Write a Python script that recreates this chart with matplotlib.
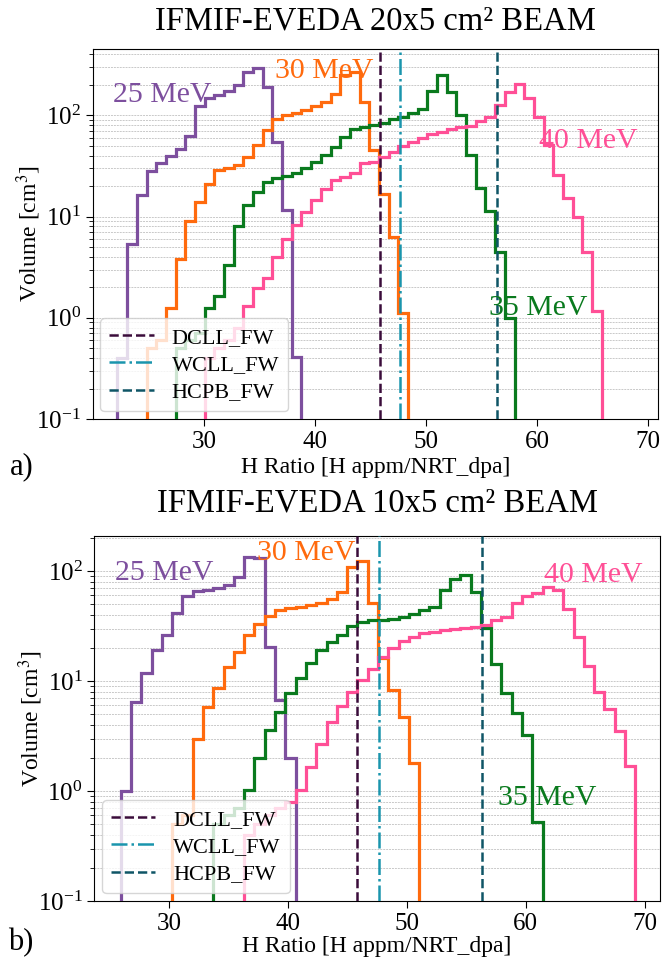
import numpy as np
import matplotlib
matplotlib.use("Agg")
import matplotlib.pyplot as plt

plt.rcParams['font.family'] = ['Liberation Serif', 'DejaVu Serif']
plt.rcParams['mathtext.fontset'] = 'stix'

# ---------------- data ----------------
# common 50-bin grid per panel (range of H ratio)
top_range = (22.2, 65.8)
bot_range = (25.93, 69.22)
n_bins = 50

# top panel (20x5 cm2 beam): start bin index + volumes [cm3]
top_purple_start = 0
top_purple = [0.4, 5.4, 16.3, 28, 33.5, 39.5, 47, 63, 125, 147, 159, 174, 200,
              267, 292, 192, 55, 11.5, 0.41]
top_orange_start = 3
top_orange = [0.5, 0.6, 1.25, 3.8, 9.1, 13.8, 20.8, 28.8, 30, 32, 39, 51, 72,
              93, 100, 105, 113, 125, 137, 161, 250, 267, 137, 45, 16.6, 6.3, 1.12]
top_green_start = 6
top_green = [0.5, 0.6, 0.7, 1.25, 1.66, 3.35, 8.1, 12.9, 17.6, 22, 24, 25, 27,
             30, 35, 41, 49, 61, 74, 77, 80, 85, 92, 97, 105, 115, 174, 250,
             172, 101, 41, 19, 11.4, 4.5, 1.0]
top_pink_start = 9
top_pink = [0.4, 0.5, 0.6, 0.8, 1.32, 1.97, 2.47, 4.0, 6.05, 8.2, 11.1, 14.5,
            18.9, 23.2, 24.7, 26.7, 33.5, 34.8, 39, 43.7, 50, 55, 60, 65, 69,
            73, 76, 79, 88, 97, 128, 171, 203, 147, 97, 51, 25.7, 15.3, 9.8,
            4.5, 1.16]

# bottom panel (10x5 cm2 beam)
bot_purple_start = 0
bot_purple = [1.0, 6.4, 11.7, 19.1, 26.2, 41.2, 59.3, 66.3, 67, 69.5, 74.6,
              87.6, 135, 130, 20.5, 6.7, 2.0]
bot_orange_start = 5
bot_orange = [0.5, 0.6, 3.0, 5.8, 8.6, 13.5, 18.5, 26.2, 33, 39.3, 44, 46,
              46.8, 49, 51.5, 55.3, 64.9, 108, 124, 51.5, 16.1, 8.2, 4.7, 1.8]
bot_green_start = 9
bot_green = [0.5, 0.6, 0.7, 1.03, 2.0, 3.6, 5.2, 7.7, 10.6, 14.5, 19.1, 22.7,
             26.2, 31.6, 34.6, 35.9, 36, 36.4, 38.5, 40.6, 44.2, 47.3, 67, 84,
             92, 65, 30.1, 14.3, 7.8, 5.1, 3.2, 0.52]
bot_pink_start = 12
bot_pink = [0.4, 0.5, 0.6, 0.7, 0.8, 1.02, 1.66, 2.67, 4.2, 5.9, 8.0, 10.2,
            12.8, 16.4, 19.8, 23.2, 25.3, 27.1, 28, 29.1, 29.5, 30.5, 31, 32.5,
            35.9, 38.5, 51.5, 59.3, 63.6, 72, 66.8, 44.9, 24.9, 13.7, 8.0, 5.6,
            3.5, 1.69]

energy_labels = ['25 MeV', '30 MeV', '35 MeV', '40 MeV']
ref_names = ['DCLL_FW', 'WCLL_FW', 'HCPB_FW']
ref_values = [45.85, 47.68, 56.35]
titles = ['IFMIF-EVEDA 20x5 cm² BEAM', 'IFMIF-EVEDA 10x5 cm² BEAM']
panel_tags = ['a)', 'b)']
xticks = [30, 40, 50, 60, 70]

# ---------------- style ----------------
series_colors = ['#7d4f9e', '#ff6a0d', '#0a7a1e', '#ff4f96']
ref_colors = ['#3a0c3a', '#1a95ad', '#0f5566']
ref_styles = ['--', '-.', '--']

fig = plt.figure(figsize=(6.62, 9.66), dpi=100)
W, H = 662.0, 966.0

def axes_px(l, t, r, b):
    return fig.add_axes([l / W, 1 - b / H, (r - l) / W, (b - t) / H])

ax_top = axes_px(92.7, 49.3, 658, 419)
ax_bot = axes_px(94.3, 536, 660, 901)

panels = [
    dict(ax=ax_top, rng=top_range,
         series=[(top_purple_start, top_purple), (top_orange_start, top_orange),
                 (top_green_start, top_green), (top_pink_start, top_pink)],
         xlim=(19.97, 70.87), ylim=(0.1, 450), title_pad=14, xlabelpad=3,
         texts=[(21.8, 135), (36.4, 234), (55.68, 1.07), (60.18, 47.6)],
         tag_pos=(10, 474)),
    dict(ax=ax_bot, rng=bot_range,
         series=[(bot_purple_start, bot_purple), (bot_orange_start, bot_orange),
                 (bot_green_start, bot_green), (bot_pink_start, bot_pink)],
         xlim=(23.71, 71.3), ylim=(0.1, 208), title_pad=18, xlabelpad=1,
         texts=[(25.45, 82.8), (37.38, 126), (57.69, 0.746), (61.57, 79.4)],
         tag_pos=(8, 950)),
]

for i, p in enumerate(panels):
    ax = p['ax']
    ax.set_yscale('log')
    edges = np.linspace(p['rng'][0], p['rng'][1], n_bins + 1)
    for (start, vals), col in zip(p['series'], series_colors):
        e = edges[start:start + len(vals) + 1]
        ax.stairs(vals, e, baseline=1e-3, color=col, linewidth=2.3, zorder=3)
    for v, name, col, ls in zip(ref_values, ref_names, ref_colors, ref_styles):
        ax.axvline(v, color=col, linestyle=ls, linewidth=1.8, label=name, zorder=4)
    for (tx, ty), lab, col in zip(p['texts'], energy_labels, series_colors):
        ax.text(tx, ty, lab, color=col, fontsize=21.5, ha='left', va='baseline',
                zorder=5)
    ax.set_xlim(*p['xlim'])
    ax.set_ylim(*p['ylim'])
    ax.set_xticks(xticks)
    ax.grid(True, which='both', axis='y', color='#c9c9c9', linestyle=(0, (2, 1)),
            linewidth=0.7, zorder=0)
    ax.tick_params(axis='both', which='major', labelsize=18, length=5)
    ax.tick_params(axis='y', which='minor', length=3)
    ax.set_title(titles[i], fontsize=23.5, pad=p['title_pad'])
    ax.set_xlabel('H Ratio [H appm/NRT_dpa]', fontsize=17, labelpad=p['xlabelpad'])
    ax.set_ylabel('Volume [cm$^3$]', fontsize=17)
    ax.yaxis.set_label_coords(-0.088, 0.5)
    ax.legend(loc='lower left', fontsize=16, framealpha=0.8, labelspacing=0.3,
              borderaxespad=0.35)
    fig.text(p['tag_pos'][0] / W, 1 - p['tag_pos'][1] / H, panel_tags[i],
             fontsize=22, ha='left', va='baseline')

fig.savefig('out.png', dpi=100)
